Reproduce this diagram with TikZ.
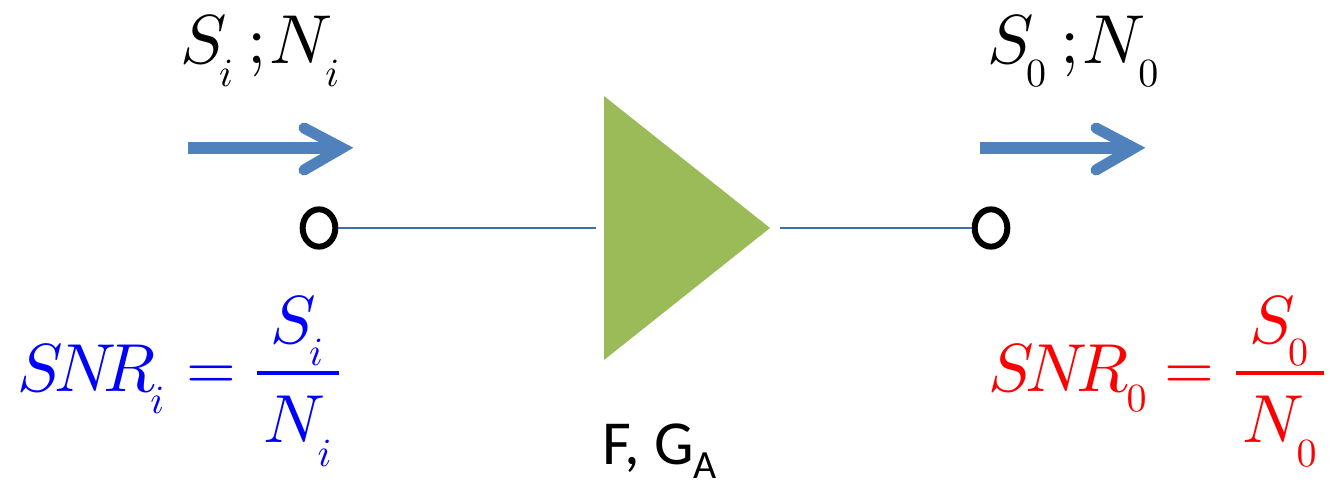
\documentclass[tikz,border=0pt]{standalone}
\usepackage{fontspec}
\newfontfamily\labelfont{Carlito}
\usetikzlibrary{shapes.geometric}
\definecolor{arrowblue}{HTML}{4F81BD}
\definecolor{wireblue}{HTML}{3F70A8}
\definecolor{ampgreen}{HTML}{9BBB59}
\font\bigmi=cmmi10 at 52pt
\font\eqnmi=cmmi10 at 51pt
\font\bigup=cmr10 at 52pt
\font\bigeq=cmr10 at 48pt
\font\submi=cmmi10 at 30pt
\font\subup=cmr10 at 30pt
\newcommand{\subi}[1]{\lower#1pt\hbox{\submi i}}
\newcommand{\subz}[1]{\lower#1pt\hbox{\subup 0}}
\tikzset{
  x=0.75pt,y=-0.75pt,
  terminal/.style={draw=black,line width=4.5pt,ellipse,minimum width=24.5pt,minimum height=28pt,inner sep=0pt},
  wire/.style={draw=wireblue,line width=1.2pt},
  flowshaft/.style={draw=arrowblue,line width=8.25pt},
  flowhead/.style={draw=arrowblue,line width=8.25pt,line cap=round,miter limit=10},
  txt/.style={anchor=base west,inner sep=0pt,outer sep=0pt},
  fracbar/.style={line width=2.4pt}
}
\begin{document}
\begin{tikzpicture}
\useasboundingbox (0,0) rectangle (1329,485);
% amplifier
\node[isosceles triangle,isosceles triangle apex angle=77.3,isosceles triangle stretches,
  minimum width=198pt,minimum height=124.5pt,inner sep=0pt,outer sep=0pt,fill=ampgreen,anchor=lower side] (amp) at (604,228) {};
% terminals
\node[terminal] (tin) at (319,228) {};
\node[terminal] (tout) at (991,228) {};
\draw[wire,shorten >=6pt] (tin.east) -- (amp.lower side);
\draw[wire,shorten <=7.5pt] (amp.apex) -- (tout.west);
% flow arrows
\coordinate (a1s) at (188,148); \coordinate (a1e) at (342,148);
\coordinate (a1u) at (304,128); \coordinate (a1d) at (304,170);
\draw[flowshaft] (a1s) -- (a1e);
\draw[flowhead] (a1u) -- (a1e) -- (a1d);
\coordinate (a2s) at (980,148); \coordinate (a2e) at (1134,148);
\coordinate (a2u) at (1096,128); \coordinate (a2d) at (1096,170);
\draw[flowshaft] (a2s) -- (a2e);
\draw[flowhead] (a2u) -- (a2e) -- (a2d);
% top labels
\node[txt] (lin) at (180,64) {\bigmi S\kern-2.5pt\subi{17}\kern11pt{\bigup ;}\kern2pt{\bigmi N}\subi{17}};
\node[txt] (lout) at (987,64) {\bigmi S\kern-2.5pt\subz{17}\kern11pt{\bigup ;}\kern2pt{\bigmi N}\subz{17}};
% SNR in
\node[txt,text=blue] (snri) at (17,391) {\eqnmi S\kern-3.5pt N\kern-3.5pt R\kern-4pt\subi{16.5}};
\node[txt,text=blue] (eqi) at (186,389) {\bigeq =};
\node[txt,text=blue] (si) at (270,343) {\eqnmi S\kern-2pt\subi{16.5}};
\node[txt,text=blue] (ni) at (263,442) {\eqnmi N\subi{18}};
\coordinate (bi1) at (257,373); \coordinate (bi2) at (339,373);
\draw[fracbar,blue] (bi1) -- (bi2);
% SNR out
\node[txt,text=red] (snro) at (988,391) {\eqnmi S\kern-3pt N\kern-3pt R\kern-1pt\subz{15}};
\node[txt,text=red] (eqo) at (1164,389) {\bigeq =};
\node[txt,text=red] (so) at (1249,343) {\eqnmi S\kern-2pt\subz{16.5}};
\node[txt,text=red] (no) at (1242,442) {\eqnmi N\subz{18}};
\coordinate (bo1) at (1236,373); \coordinate (bo2) at (1324,373);
\draw[fracbar,red] (bo1) -- (bo2);
% gain label
\node[txt] (fga) at (602,464) {\labelfont\fontsize{47}{50}\selectfont F, G\lower11pt\hbox{\fontsize{30}{32}\selectfont A}};
\end{tikzpicture}
\end{document}
